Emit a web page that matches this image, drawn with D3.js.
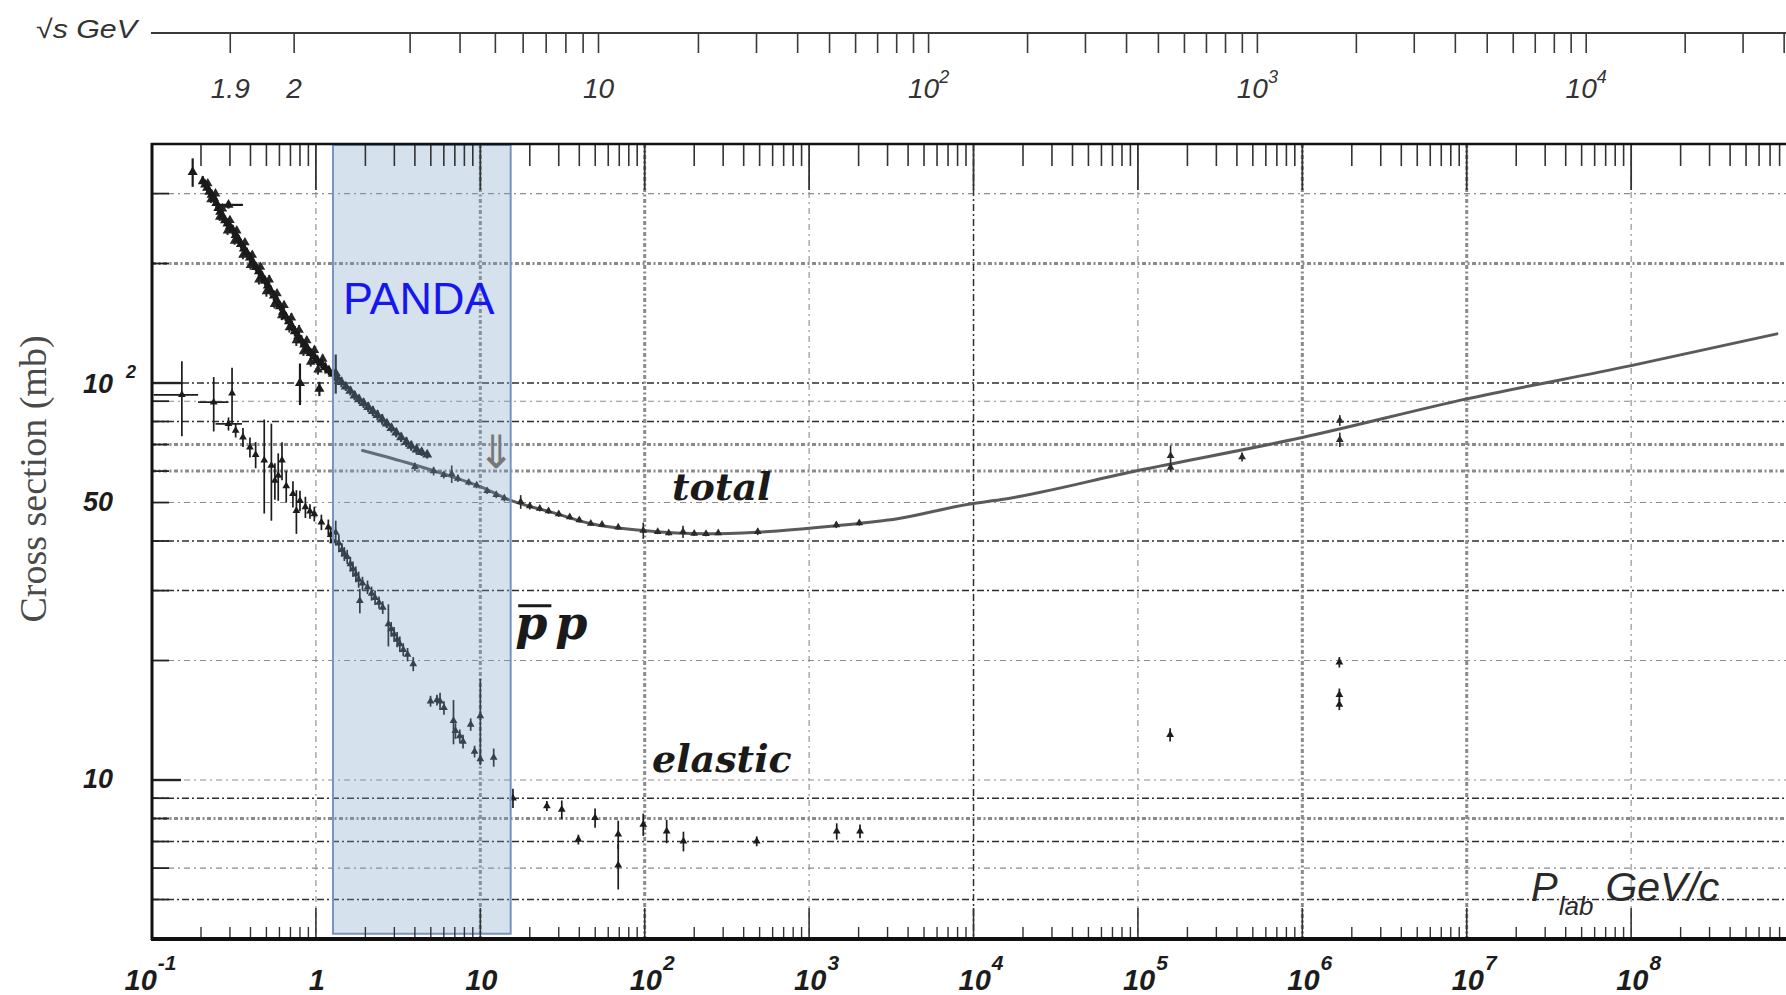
<!DOCTYPE html>
<html>
<head>
<meta charset="utf-8">
<script src="https://cdn.jsdelivr.net/npm/d3@7"></script>
<style>
html,body{margin:0;padding:0;background:#fff;overflow:hidden}
</style>
</head>
<body>
<svg id="chart" width="1786" height="995" font-family="Liberation Sans, Arial, sans-serif"></svg>
<script>
// ---------------- DATA ----------------
// bottom axis: P_lab (GeV/c) decade ticks and labels [base, superscript]
const pDecades = [0.1, 1, 10, 100, 1e3, 1e4, 1e5, 1e6, 1e7, 1e8];
const pDecadeLabels = [["10","-1"],["1",""],["10",""],["10","2"],["10","3"],["10","4"],["10","5"],["10","6"],["10","7"],["10","8"]];

// top axis: sqrt(s) in GeV
const sqrtsTicks = [1.9,2,3,4,5,6,7,8,9,10,20,30,40,50,60,70,80,90,100,200,300,400,500,600,700,800,900,
  1000,2000,3000,4000,5000,6000,7000,8000,9000,10000,20000,30000,40000];
const sqrtsLabelValues = [1.9, 2, 10, 100, 1000, 10000];
const sqrtsLabelText = [["1.9",""],["2",""],["10",""],["10","2"],["10","3"],["10","4"]];

// y axis: cross section (mb)
const sigmaGrid = [300,200,100,90,80,70,60,50,40,30,20,10,9,8,7,6,5];
const sigmaMajor = [100, 10];
const sigmaLabelValues = [100, 50, 10];
const sigmaLabelText = [["10","2"],["50",""],["10",""]];

// PANDA momentum range (GeV/c)
const pandaRange = [1.27, 15.3];

// total cross section fit curve [p, sigma]
const totalFit = [[1.92,67.6],[3.77,62.6],[6.88,57.9],[10.25,54.6],[15.3,50.6],[27,47.3],[47.4,44.2],
  [98,42.5],[236,41.7],[487,42.1],[1464,43.7],[3450,45.5],[9530,49.6],[14500,50.8],[1e5,60.2],
  [1e6,72.9],[1e7,91.2],[1e8,110.6],[7.7e8,133]];

// total cross section data, low momentum band [p, sigma, err, pLo, pHi]
const totalLowData = [[0.178,340,28],[0.205,322,10],[0.212,316,8],[0.218,310,10],[0.225,303,8],
  [0.232,298,9],[0.240,292,8],[0.248,284,8],[0.255,276,7],[0.262,270,8],[0.270,263,7],[0.280,257,7],
  [0.294,281,6,0.24,0.36],[0.290,252,7],[0.300,248,6],[0.312,243,7],[0.325,236,6],[0.338,230,6],
  [0.350,224,6],[0.365,218,6],[0.380,213,6],[0.397,207,6],[0.415,201,5],[0.432,196,5],[0.450,191,5],
  [0.470,186,5],[0.490,181,5],[0.510,176,5],[0.530,171,5],[0.555,166,5],[0.580,161,4],[0.605,156,4],
  [0.630,151,4],[0.655,147,4],[0.685,143,4],[0.715,139,4],[0.745,135,4],[0.780,131,4],[0.80,100,12],
  [0.815,128,4],[0.850,125,3],[0.890,122,3],[0.930,119,3],[0.975,116.5,3],[1.02,114,3],[1.05,96.7,4],
  [1.08,112,3],[1.14,109.5,3],[1.20,107.5,3],[1.27,105.5,3],[1.32,106,12],[1.35,103,3],[1.43,100.5,3],
  [1.52,98,2.5],[1.62,95.5,2.5],[1.72,93,2.5],[1.83,91,2.5],[1.95,89,2.5],[2.08,87,2.5],[2.22,85,2.5],
  [2.37,83,2.5],[2.53,81,2.5],[2.70,79,2],[2.88,77,2],[3.08,75,2],[3.30,73,2],[3.55,71,2],[3.80,69.5,2],
  [4.10,68,2],[4.40,67,1.5],[4.75,66,1.5]];

// total cross section data, scatter at the edges of the low momentum band [p, sigma, err]
const totalLowSpread = [[0.22,318,6],[0.245,300,6],[0.27,275,6],[0.30,257,6],[0.33,242,5],[0.37,226,5],
  [0.41,210,5],[0.46,196,5],[0.52,182,5],[0.58,168,4],[0.64,157,4],[0.71,146,4],[0.79,136,4],[0.88,128,3],
  [0.98,121,3],[1.10,115,3],[0.23,290,6],[0.26,262,6],[0.29,242,6],[0.32,228,5],[0.36,210,5],[0.40,198,5],
  [0.45,182,5],[0.50,170,5],[0.56,158,4],[0.62,148,4],[0.69,138,4],[0.76,128,4],[0.84,120,3],[0.93,113,3],
  [1.03,108,3]];

// total cross section data along the fit [p, sigma, err]
const totalHighData = [[4.0,61.5,1.5],[5.2,60,1.5],[6.0,58.7,1.2],[6.7,59,3],[7.3,57.5,1.2],[8.5,56.2,1],
  [9.5,55.3,1],[11,53.5,1],[12.5,52.3,1],[14,51.3,1],[17.6,50.2,2],[20,49,1],[23,48.3,0.8],[26,47.6,0.8],
  [30,46.8,0.8],[35,46,0.7],[40,45.2,0.7],[47,44.3,0.6],[55,44,0.6],[69,43.3,0.6],[98,42.5,2],
  [120,42.2,0.6],[140,41.9,0.6],[171,42.2,1.5],[200,41.8,0.6],[236,41.7,0.6],[280,41.9,0.5],
  [487,42.2,0.8],[1464,43.9,0.8],[2019,44.4,0.7],[1.58e5,61.3,1.5],[1.58e5,65.6,4],[4.3e5,65.1,1.7],
  [1.69e6,80.5,2.5],[1.69e6,72,3]];

// elastic cross section data [p, sigma, err, pLo, pHi]
const elasticData = [[0.153,93.4,20,0.103,0.192],[0.239,89.5,14,0.192,0.294],[0.309,94.2,15],
  [0.294,78.9,3,0.245,0.355],[0.325,75.9,3],[0.36,73,4],[0.397,68.9,4],[0.43,66,5],[0.485,63.9,17],
  [0.536,62,17],[0.563,56.8,6],[0.59,58.5,8],[0.622,63.9,7],[0.66,55,5],[0.725,52.6,4],[0.761,47.7,6],
  [0.80,50.5,3],[0.863,48.7,3],[0.92,47.5,2],[0.978,46.8,2],[1.08,44.6,2],[1.19,43.3,2],[1.23,41.5,2],
  [1.27,40.0,2],[1.32,42,3],[1.38,39.5,2],[1.44,38,1.5],[1.49,37.1,1.5],[1.55,36.5,1.5],[1.62,35,1.5],
  [1.68,34,1.5],[1.75,33.0,1.5],[1.82,32,1.5],[1.85,28.3,2],[1.92,31.3,1.2],[2.06,30.6,1.2],
  [2.18,29.5,1.2],[2.29,28.8,1.2],[2.42,28,1],[2.55,27.2,1],[2.76,24.7,3],[2.87,24,1],[2.99,23.3,1],
  [3.12,22.6,1],[3.24,22.0,1],[3.40,21.3,0.8],[3.61,20.7,0.8],[3.91,19.6,0.8],[4.98,15.8,0.5],
  [5.45,15.9,0.5],[5.69,15.8,0.8],[6.01,15.2,0.6],[6.87,14.1,1.8],[7.06,13.3,0.6],[7.5,12.9,0.5],
  [7.85,12.5,0.5],[8.74,13.8,0.5],[9.23,11.8,0.4],[10.0,14.5,3.5],[10.0,11.3,0.4],[12.06,11.4,0.6],
  [15.8,9.0,0.5],[25.4,8.6,0.25],[31.3,8.43,0.45],[39.5,7.08,0.2],[49.9,8.03,0.45],[69,7.3,0.6],
  [69,6.1,0.8],[98,7.73,0.5],[136,7.43,0.5],[172,7.01,0.4],[480,7.01,0.2],[1472,7.43,0.35],
  [2040,7.43,0.3],[1.57e5,13.0,0.5],[1.68e6,19.8,0.6],[1.68e6,16.4,0.6],[1.68e6,15.5,0.5]];

// ---------------- DRAWING ----------------
const M_P = 0.938272;
function pFromSqrtS(rs){ const s = rs*rs; const E = (s - 2*M_P*M_P)/(2*M_P); return Math.sqrt(E*E - M_P*M_P); }

const svg = d3.select("#chart");
svg.append("rect").attr("width",1786).attr("height",995).attr("fill","#fff");

const L = 152, T = 144, R = 1786, B = 938;
const x = d3.scaleLog().domain([0.1, Math.pow(10, 8.942)]).range([151.5, 1786]);
const y = d3.scaleLog().domain([4, 400]).range([938, 144]);

svg.append("defs").append("clipPath").attr("id","plotclip")
  .append("rect").attr("x",L).attr("y",T).attr("width",R-L).attr("height",B-T);

const styles = {
  thin:  {stroke:"#8c8c8c", w:1.1, dash:"6,4,2,4"},
  dark:  {stroke:"#2e2e2e", w:1.5, dash:"7,3,2,3"},
  heavy: {stroke:"#8a8a8a", w:3.0, dash:"4,2.5,2,2.5"}
};
const hStyle = v => ([200,70,60,8].includes(v) ? "heavy" : [100,80,40,30,9,7,5].includes(v) ? "dark" : "thin");
const vStyle = v => ([10,100,1e6,1e7].includes(v) ? "heavy" : [1e4].includes(v) ? "dark" : "thin");

const gGrid = svg.append("g").attr("clip-path","url(#plotclip)");
gGrid.selectAll("line.h").data(sigmaGrid).join("line").attr("class","h")
  .attr("x1",L).attr("x2",R).attr("y1",d=>y(d)).attr("y2",d=>y(d))
  .attr("stroke",d=>styles[hStyle(d)].stroke).attr("stroke-width",d=>styles[hStyle(d)].w)
  .attr("stroke-dasharray",d=>styles[hStyle(d)].dash);
gGrid.selectAll("line.v").data(pDecades.slice(1)).join("line").attr("class","v")
  .attr("y1",T).attr("y2",B).attr("x1",d=>x(d)).attr("x2",d=>x(d))
  .attr("stroke",d=>styles[vStyle(d)].stroke).attr("stroke-width",d=>styles[vStyle(d)].w)
  .attr("stroke-dasharray",d=>styles[vStyle(d)].dash);

const gData = svg.append("g").attr("clip-path","url(#plotclip)");

// fit curve
gData.append("path").datum(totalFit)
  .attr("d", d3.line().x(d=>x(d[0])).y(d=>y(d[1])).curve(d3.curveMonotoneX))
  .attr("fill","none").attr("stroke","#5a5a5a").attr("stroke-width",3).attr("stroke-linecap","round");

function drawPoints(data, size, color, bw){
  const g = gData.append("g");
  g.selectAll("line.eb").data(data).join("line").attr("class","eb")
    .attr("x1",d=>x(d[0])).attr("x2",d=>x(d[0]))
    .attr("y1",d=>y(d[1]+d[2])).attr("y2",d=>y(Math.max(d[1]-d[2],4.01)))
    .attr("stroke",color).attr("stroke-width",bw);
  g.selectAll("line.hb").data(data.filter(d=>d.length>3)).join("line").attr("class","hb")
    .attr("x1",d=>x(d[3])).attr("x2",d=>x(d[4]))
    .attr("y1",d=>y(d[1])).attr("y2",d=>y(d[1]))
    .attr("stroke",color).attr("stroke-width",bw);
  g.selectAll("path.mk").data(data).join("path").attr("class","mk")
    .attr("transform",d=>`translate(${x(d[0])},${y(d[1])})`)
    .attr("d", d3.symbol().type(d3.symbolTriangle).size(size))
    .attr("fill",color);
}
drawPoints(totalLowSpread, 40, "#262626", 2);
drawPoints(totalLowData, 44, "#1a1a1a", 2.2);
drawPoints(totalHighData, 26, "#2a2a2a", 1.6);
drawPoints(elasticData, 26, "#1c1c1c", 1.7);

// PANDA box (semi-transparent overlay)
svg.append("rect")
  .attr("x", x(pandaRange[0])).attr("width", x(pandaRange[1]) - x(pandaRange[0]))
  .attr("y", y(400)+1).attr("height", y(4.1) - y(400) - 1)
  .attr("fill","rgb(120,155,200)").attr("fill-opacity",0.3)
  .attr("stroke","#7894bd").attr("stroke-width",2);

// annotations
const serifBI = sel => sel.style("font-family","'DejaVu Serif', serif").style("font-style","italic").style("font-weight","bold");

svg.append("text").attr("x", x(1.46)).attr("y", y(149)).text("PANDA")
  .attr("font-size",45).attr("fill","#1616ee");

serifBI(svg.append("text").attr("x", x(146.6)).attr("y", y(50.6)).text("total")
  .attr("font-size",38).attr("fill","#1a1a1a"));
serifBI(svg.append("text").attr("x", x(110.7)).attr("y", y(10.5)).text("elastic")
  .attr("font-size",38).attr("fill","#1a1a1a"));

const p1 = serifBI(svg.append("text").attr("x", x(16.3)).attr("y", y(22.7)).text("p")
  .attr("font-size",46).attr("fill","#1a1a1a"));
const bb = p1.node().getBBox();
svg.append("line").attr("x1",bb.x+3).attr("x2",bb.x+bb.width+4)
  .attr("y1",y(22.7)-33).attr("y2",y(22.7)-33).attr("stroke","#1a1a1a").attr("stroke-width",3);
serifBI(svg.append("text").attr("x", bb.x+bb.width+8).attr("y", y(22.7)).text("p")
  .attr("font-size",46).attr("fill","#1a1a1a"));

svg.append("text").attr("x", x(12.5)).attr("y", y(61)).text("⇓").attr("text-anchor","middle")
  .style("font-family","'DejaVu Sans', sans-serif").attr("font-size",46).attr("fill","#777");

const plab = svg.append("text").attr("x", x(2.46e7)).attr("y", y(4.95))
  .attr("font-style","italic").attr("fill","#2a2a2a");
plab.append("tspan").text("P").attr("font-size",40);
plab.append("tspan").text("lab").attr("font-size",26).attr("dy",14).attr("dx",1);
plab.append("tspan").text("GeV/c").attr("font-size",41).attr("dy",-14).attr("dx",12);

// ---- frame: axes & ticks ----
const gAx = svg.append("g");
const minorP = [];
pDecades.forEach(d => { for (let k=2;k<=9;k++){ const v=d*k; if (x(v) < R) minorP.push(v); } });
gAx.selectAll("line.tt").data(minorP).join("line").attr("class","tt")
  .attr("x1",d=>x(d)).attr("x2",d=>x(d)).attr("y1",T).attr("y2",T+22)
  .attr("stroke","#333").attr("stroke-width",1.6);
gAx.selectAll("line.ttM").data(pDecades.slice(1)).join("line").attr("class","ttM")
  .attr("x1",d=>x(d)).attr("x2",d=>x(d)).attr("y1",T).attr("y2",T+46)
  .attr("stroke","#333").attr("stroke-width",1.8);
gAx.selectAll("line.bt").data(minorP).join("line").attr("class","bt")
  .attr("x1",d=>x(d)).attr("x2",d=>x(d)).attr("y1",B).attr("y2",B-11)
  .attr("stroke","#333").attr("stroke-width",1.4);
gAx.selectAll("line.btM").data(pDecades.slice(1)).join("line").attr("class","btM")
  .attr("x1",d=>x(d)).attr("x2",d=>x(d)).attr("y1",B).attr("y2",B-30)
  .attr("stroke","#333").attr("stroke-width",1.6);
gAx.selectAll("line.lt").data(sigmaGrid).join("line").attr("class","lt")
  .attr("x1",L).attr("x2",d=>L + (sigmaMajor.includes(d) ? 29 : 17))
  .attr("y1",d=>y(d)).attr("y2",d=>y(d))
  .attr("stroke","#222").attr("stroke-width",d=>sigmaMajor.includes(d) ? 2.4 : 1.8);
gAx.append("line").attr("x1",L-1).attr("x2",R).attr("y1",T).attr("y2",T).attr("stroke","#111").attr("stroke-width",2.6);
gAx.append("line").attr("x1",L).attr("x2",L).attr("y1",T-1).attr("y2",B+2).attr("stroke","#111").attr("stroke-width",3);
gAx.append("line").attr("x1",L-1).attr("x2",R).attr("y1",B+1).attr("y2",B+1).attr("stroke","#111").attr("stroke-width",4);

// bottom labels
pDecades.forEach((d,i) => {
  const [base, sup] = pDecadeLabels[i];
  const t = svg.append("text").attr("y", 990).attr("font-weight","bold").attr("font-style","italic")
    .attr("fill","#1c1c1c").attr("font-size",29);
  if (sup === "") { t.attr("x", x(d)+1).attr("text-anchor","middle").text(base); }
  else {
    t.attr("x", x(d) + (sup.startsWith("-") ? -27 : -15));
    t.append("tspan").text(base);
    t.append("tspan").text(sup).attr("font-size",21).attr("dy",-20).attr("dx",1);
  }
});

// left labels
sigmaLabelValues.forEach((v,i) => {
  const [base, sup] = sigmaLabelText[i];
  const t = svg.append("text").attr("x",83).attr("y", y(v)+ (sup ? 10 : 8))
    .attr("font-weight","bold").attr("font-style","italic").attr("fill","#1c1c1c").attr("font-size",27);
  t.append("tspan").text(base);
  if (sup) t.append("tspan").text(sup).attr("font-size",18).attr("dy",-15).attr("dx",13);
});

// y title
svg.append("text").attr("transform","translate(46,479) rotate(-90)").attr("text-anchor","middle")
  .style("font-family","'Liberation Serif', 'Times New Roman', serif").attr("font-size",38).attr("fill","#4a4a4a")
  .text("Cross section (mb)");

// top sqrt(s) axis
const TA = 33;
svg.append("line").attr("x1",151).attr("x2",R).attr("y1",TA).attr("y2",TA).attr("stroke","#3a3a3a").attr("stroke-width",2);
svg.selectAll("line.sq").data(sqrtsTicks.filter(v => x(pFromSqrtS(v)) <= R)).join("line").attr("class","sq")
  .attr("x1",d=>x(pFromSqrtS(d))).attr("x2",d=>x(pFromSqrtS(d))).attr("y1",TA).attr("y2",TA+20)
  .attr("stroke","#3a3a3a").attr("stroke-width",1.6);
sqrtsLabelValues.forEach((v,i) => {
  const [base, sup] = sqrtsLabelText[i];
  const t = svg.append("text").attr("y", 98).attr("font-style","italic").attr("fill","#333")
    .attr("font-size",28).attr("text-anchor","middle").attr("x", x(pFromSqrtS(v)));
  t.append("tspan").text(base);
  if (sup) t.append("tspan").text(sup).attr("font-size",18).attr("dy",-15);
});
svg.append("text").attr("x",36).attr("y",38).attr("font-style","italic").attr("fill","#333")
  .attr("font-size",26).attr("textLength",101).attr("lengthAdjust","spacingAndGlyphs").text("√s GeV");
</script>
</body>
</html>
